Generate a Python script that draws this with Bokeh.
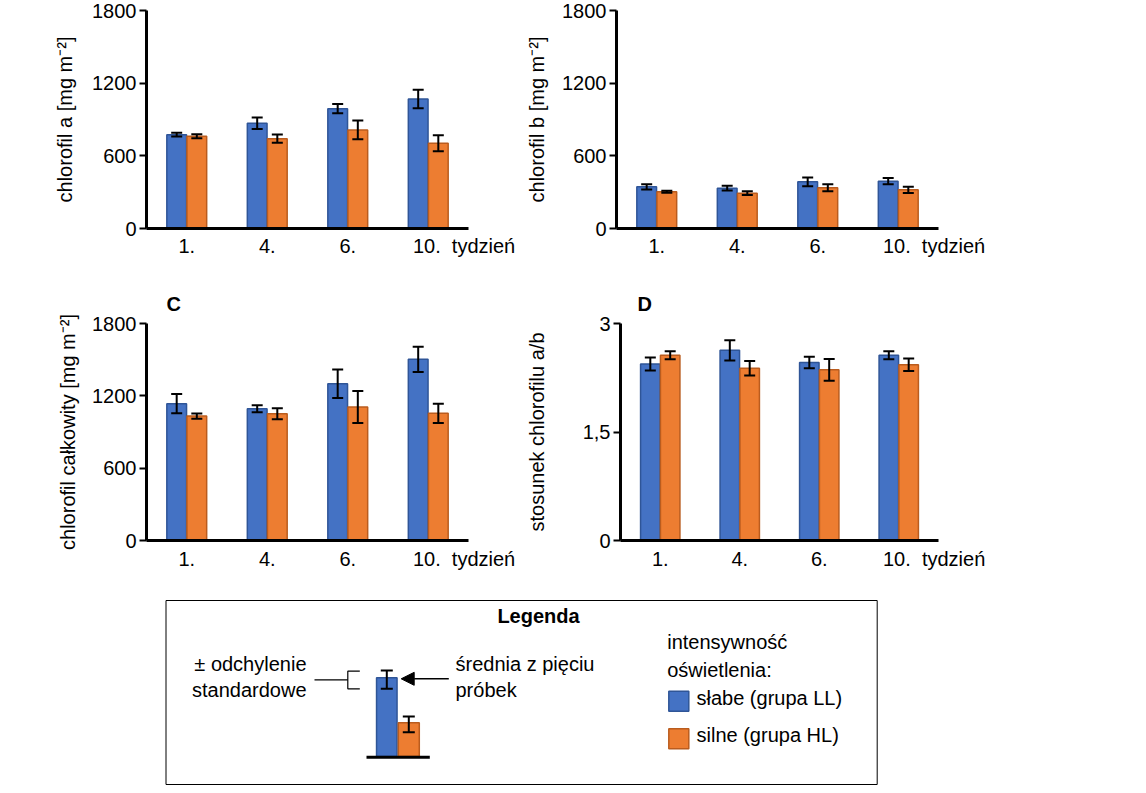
from bokeh.plotting import figure
from bokeh.models import (ColumnDataSource, Range1d, FixedTicker,
                          Whisker, TeeHead, Arrow, NormalHead)
from bokeh.layouts import column, row
from bokeh.embed import file_html
from bokeh.resources import INLINE
from bokeh.core.properties import value

# ---------------- data ----------------
weeks = ["1.", "4.", "6.", "10."]
x_unit_label = "tydzień"

chl_a_ll = [775, 869, 989, 1069]
chl_a_ll_sd = [16, 47, 38, 76]
chl_a_hl = [762, 742, 814, 704]
chl_a_hl_sd = [17, 34, 77, 66]

chl_b_ll = [344, 333, 385, 391]
chl_b_ll_sd = [21, 19, 36, 25]
chl_b_hl = [303, 292, 336, 319]
chl_b_hl_sd = [8, 16, 29, 25]

chl_t_ll = [1135, 1093, 1301, 1503]
chl_t_ll_sd = [80, 29, 118, 105]
chl_t_hl = [1032, 1052, 1107, 1055]
chl_t_hl_sd = [22, 46, 133, 80]

ratio_ll = [2.44, 2.63, 2.46, 2.56]
ratio_ll_sd = [0.09, 0.14, 0.08, 0.055]
ratio_hl = [2.56, 2.38, 2.36, 2.43]
ratio_hl_sd = [0.055, 0.10, 0.15, 0.085]

ticks_chl = [0, 600, 1200, 1800]
labels_chl = {0: "0", 600: "600", 1200: "1200", 1800: "1800"}
ticks_ratio = [0, 1.5, 3]
labels_ratio = {0: "0", 1.5: "1,5", 3: "3"}

# legend schematic (example bar values, in legend-panel pixels)
leg_bar_x = [386.3, 408.3]
leg_bar_top = [81.3, 126.3]
leg_bar_sd_low = [74.0, 120.0]
leg_bar_sd_high = [92.3, 135.7]
leg_bar_base = 160.0

BLUE, BLUE_LINE = "#4472C4", "#2F5597"
ORANGE, ORANGE_LINE = "#ED7D31", "#BA5C1E"
FONT = "Liberation Sans"
FS = "20px"

xc = [i + 0.5 for i in range(len(weeks))]
# last tick label carries the unit; its anchor is shifted so "10." stays under its bars
tick_pos = xc[:-1] + [xc[-1] + 0.445]
tick_text = weeks[:-1] + [weeks[-1] + "\u00a0\u00a0" + x_unit_label]


def panel(ll, ll_sd, hl, hl_sd, ymax, ticks, overrides, ylabel, width, height,
          borders, lab_standoff, x_standoff, title=None, title_offset=0, title_standoff=10):
    left, right, top, bottom = borders
    p = figure(width=width, height=height, x_range=Range1d(0, len(weeks)),
               y_range=Range1d(0, ymax), output_backend="svg", toolbar_location=None,
               title=title, min_border_left=left, min_border_right=right,
               min_border_top=top, min_border_bottom=bottom)
    p.background_fill_color = "white"
    p.border_fill_color = "white"
    p.outline_line_color = None
    p.xgrid.visible = False
    p.ygrid.visible = False

    src = ColumnDataSource(dict(
        xl=[x - 0.125 for x in xc], xh=[x + 0.125 for x in xc], ll=ll, hl=hl,
        ll_lo=[v - s for v, s in zip(ll, ll_sd)], ll_hi=[v + s for v, s in zip(ll, ll_sd)],
        hl_lo=[v - s for v, s in zip(hl, hl_sd)], hl_hi=[v + s for v, s in zip(hl, hl_sd)],
    ))
    p.vbar(x="xl", top="ll", bottom=0, width=0.245, source=src,
           fill_color=BLUE, line_color=BLUE_LINE, line_width=1.5)
    p.vbar(x="xh", top="hl", bottom=0, width=0.245, source=src,
           fill_color=ORANGE, line_color=ORANGE_LINE, line_width=1.5)
    for base, lo, hi in (("xl", "ll_lo", "ll_hi"), ("xh", "hl_lo", "hl_hi")):
        w = Whisker(base=base, lower=lo, upper=hi, source=src, level="overlay",
                    line_color="black", line_width=2,
                    upper_head=TeeHead(size=11, line_color="black", line_width=2),
                    lower_head=TeeHead(size=11, line_color="black", line_width=2))
        p.add_layout(w)

    ax = p.yaxis[0]
    ax.ticker = FixedTicker(ticks=ticks)
    ax.major_label_overrides = overrides
    ax.axis_line_width = 3
    ax.axis_line_color = "black"
    ax.major_tick_in = 0
    ax.major_tick_out = 7
    ax.major_tick_line_width = 2
    ax.minor_tick_in = 0
    ax.minor_tick_out = 0
    ax.major_label_standoff = 3
    ax.major_label_text_font = FONT
    ax.major_label_text_font_size = FS
    ax.major_label_text_color = "black"
    ax.axis_label = ylabel
    ax.axis_label_text_font = FONT
    ax.axis_label_text_font_size = FS
    ax.axis_label_text_font_style = "normal"
    ax.axis_label_text_color = "black"
    ax.axis_label_standoff = lab_standoff

    xa = p.xaxis[0]
    xa.ticker = FixedTicker(ticks=tick_pos)
    xa.major_label_overrides = dict(zip(tick_pos, tick_text))
    xa.axis_line_width = 3
    xa.axis_line_color = "black"
    xa.major_tick_in = 0
    xa.major_tick_out = 0
    xa.minor_tick_in = 0
    xa.minor_tick_out = 0
    xa.major_label_standoff = x_standoff
    xa.major_label_text_font = FONT
    xa.major_label_text_font_size = FS
    xa.major_label_text_color = "black"

    if title is not None:
        p.title.text_font = FONT
        p.title.text_font_size = FS
        p.title.text_font_style = "bold"
        p.title.text_color = "black"
        p.title.align = "left"
        p.title.offset = title_offset
        p.title.standoff = title_standoff
    return p


TOP_H, BOT_H = 270, 326
pA = panel(chl_a_ll, chl_a_ll_sd, chl_a_hl, chl_a_hl_sd, 1800, ticks_chl, labels_chl,
           "chlorofil a [mg m⁻²]", 522, TOP_H, (146, 54, 10, 42), 13, 6)
pB = panel(chl_b_ll, chl_b_ll_sd, chl_b_hl, chl_b_hl_sd, 1800, ticks_chl, labels_chl,
           "chlorofil b [mg m⁻²]", 600, TOP_H, (94, 184, 10, 42), 11, 6)
pC = panel(chl_t_ll, chl_t_ll_sd, chl_t_hl, chl_t_hl_sd, 1800, ticks_chl, labels_chl,
           "chlorofil całkowity [mg m⁻²]", 522, BOT_H, (146, 54, 53, 56), 10, 7, "C", 20, 18)
pD = panel(ratio_ll, ratio_ll_sd, ratio_hl, ratio_hl_sd, 3, ticks_ratio, labels_ratio,
           "stosunek chlorofilu a/b", 600, BOT_H, (94, 184, 53, 56), 32, 7, "D", 17, 18)

# ---------------- legend panel ----------------
LW, LH = 1130, 197
pL = figure(width=LW, height=LH, x_range=Range1d(0, LW), y_range=Range1d(LH, 0),
            output_backend="svg", toolbar_location=None, x_axis_type=None, y_axis_type=None,
            min_border=0, title=None)
pL.outline_line_color = None
pL.xgrid.visible = False
pL.ygrid.visible = False
pL.background_fill_color = "white"
pL.border_fill_color = "white"

pL.quad(left=165.5, right=876.7, top=4, bottom=188, fill_color=None, line_color="black", line_width=1)

pL.vbar(x=[leg_bar_x[0]], top=[leg_bar_top[0]], bottom=leg_bar_base, width=20.5,
        fill_color=BLUE, line_color=BLUE_LINE, line_width=1.5)
pL.vbar(x=[leg_bar_x[1]], top=[leg_bar_top[1]], bottom=leg_bar_base, width=21,
        fill_color=ORANGE, line_color=ORANGE_LINE, line_width=1.5)
pL.segment(x0=[366], x1=[429.3], y0=[160.7], y1=[160.7], line_color="black", line_width=3)
lsrc = ColumnDataSource(dict(x=leg_bar_x, lo=leg_bar_sd_low, hi=leg_bar_sd_high))
pL.add_layout(Whisker(base="x", lower="lo", upper="hi", source=lsrc, level="overlay",
                      line_color="black", line_width=2,
                      upper_head=TeeHead(size=12, line_color="black", line_width=2),
                      lower_head=TeeHead(size=12, line_color="black", line_width=2)))
# bracket pointing at the error bar
pL.multi_line(xs=[[314, 347.3], [359.3, 347.3, 347.3, 359.3]],
              ys=[[83.3, 83.3], [74.7, 74.7, 92.3, 92.3]], line_color="black", line_width=1.2)
pL.add_layout(Arrow(end=NormalHead(size=13, fill_color="black", line_color="black"),
                    x_start=448.3, y_start=82.3, x_end=400.7, y_end=82.3,
                    line_color="black", line_width=1.5))
# swatches
pL.quad(left=[668.3, 668.3], right=[688.3, 688.3], top=[94.7, 132.3], bottom=[114.7, 152.3],
        fill_color=[BLUE, ORANGE], line_color=[BLUE_LINE, ORANGE_LINE], line_width=1.5)

pL.text(x=[538], y=[19.5], text=["Legenda"], text_font=value(FONT), text_font_size=FS,
        text_font_style="bold", text_align="center", text_baseline="alphabetic", text_color="black")
pL.text(x=[306, 306], y=[67, 93.5], text=["± odchylenie", "standardowe"],
        text_font=value(FONT), text_font_size=FS, text_align="right",
        text_baseline="alphabetic", text_color="black")
pL.text(x=[455, 455, 666.7, 666.7], y=[67, 93.5, 45.5, 73],
        text=["średnia z pięciu", "próbek", "intensywność", "oświetlenia:"],
        text_font=value(FONT), text_font_size=FS, text_align="left",
        text_baseline="alphabetic", text_color="black")
pL.text(x=[696, 696], y=[101, 138.5], text=["słabe (grupa LL)", "silne (grupa HL)"],
        text_font=value(FONT), text_font_size=FS, text_align="left",
        text_baseline="middle", text_color="black")

layout = column(row(pA, pB), row(pC, pD), pL)
open("out.html", "w").write(file_html(layout, INLINE))
